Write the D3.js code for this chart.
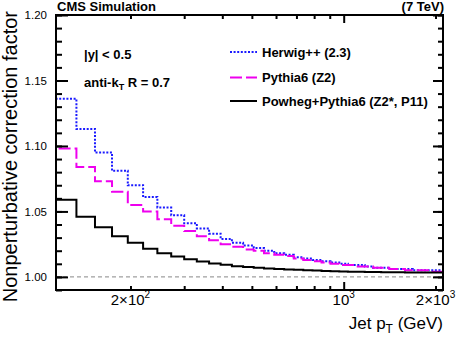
<!DOCTYPE html>
<html>
<head>
<meta charset="utf-8">
<script src="https://cdn.jsdelivr.net/npm/d3@7"></script>
<style>
  body { margin: 0; background: #fff; }
  svg { display: block; font-family: "Liberation Sans", Arial, Helvetica, sans-serif; }
</style>
</head>
<body>
<script>
'use strict';

// jet pT bin edges (GeV)
const binEdges = [114, 133, 153, 174, 196, 220, 245, 272, 300, 330, 362, 395, 430, 468, 507, 548,
  592, 638, 686, 737, 790, 846, 905, 967, 1032, 1101, 1172, 1248, 1327, 1410, 1497, 1588,
  1684, 1784, 1890, 2000, 2116];

const herwig = [1.136, 1.113, 1.095, 1.081, 1.070, 1.061, 1.053, 1.047, 1.041, 1.037, 1.033, 1.029,
  1.026, 1.024, 1.022, 1.020, 1.018, 1.017, 1.015, 1.014, 1.013, 1.012, 1.011, 1.010,
  1.009, 1.009, 1.008, 1.007, 1.007, 1.006, 1.006, 1.006, 1.005, 1.005, 1.005, 1.005];

const pythia = [1.098, 1.084, 1.073, 1.065, 1.055, 1.050, 1.044, 1.039, 1.035, 1.031, 1.028, 1.025,
  1.023, 1.021, 1.020, 1.018, 1.017, 1.016, 1.014, 1.013, 1.012, 1.011, 1.010, 1.009,
  1.009, 1.008, 1.008, 1.007, 1.007, 1.006, 1.006, 1.005, 1.005, 1.005, 1.004, 1.004];

const powheg = [1.059, 1.046, 1.038, 1.031, 1.026, 1.0215, 1.018, 1.0155, 1.0135, 1.0118, 1.0103, 1.0092,
  1.0082, 1.0075, 1.007, 1.0065, 1.006, 1.0057, 1.0054, 1.005, 1.0048, 1.0046, 1.0044, 1.0042,
  1.004, 1.004, 1.0038, 1.0037, 1.0036, 1.0035, 1.0035, 1.0034, 1.0034, 1.0033, 1.0033, 1.0033];

const seriesNames = ['Herwig++ (2.3)', 'Pythia6 (Z2)', 'Powheg+Pythia6 (Z2*, P11)'];

const yMajor = [1.00, 1.05, 1.10, 1.15, 1.20];
const yMinor = d3.range(99, 121).map(d => d / 100);
const xMajor = [1000];
const xMinor = [200, 300, 400, 500, 600, 700, 800, 900, 2000];
const xLabels = [200, 1000, 2000];

(function() {
  const width = 457;
  const heigh = 339;
  const pLeft = 56, pRight = 443, pTop = 15, pBottom = 290;

  const svg = d3.select('body').append('svg')
    .attr('width', width)
    .attr('height', heigh);

  const x = d3.scaleLog().domain([114, 2116]).range([pLeft, pRight]);
  const y = d3.scaleLinear().domain([0.99, 1.20]).range([pBottom, pTop]);

  svg.append('clipPath').attr('id', 'plot')
    .append('rect')
    .attr('x', pLeft).attr('y', pTop)
    .attr('width', pRight - pLeft).attr('height', pBottom - pTop);

  // reference line at 1
  svg.append('line')
    .attr('x1', pLeft).attr('x2', pRight)
    .attr('y1', y(1)).attr('y2', y(1))
    .attr('stroke', '#888')
    .attr('stroke-width', 1)
    .attr('stroke-dasharray', '4,3');

  function stepPoints(vals) {
    let pts = [[binEdges[0], 0.99]];
    vals.forEach((v, i) => pts.push([binEdges[i], v]));
    pts.push([binEdges[binEdges.length - 1], vals[vals.length - 1]]);
    return pts;
  }

  const line = d3.line()
    .x(d => x(d[0]))
    .y(d => y(d[1]))
    .curve(d3.curveStepAfter);

  const styles = [
    { data: herwig, color: '#1a1aff', dash: '2,1.6' },
    { data: pythia, color: '#ee00ee', dash: '12,4' },
    { data: powheg, color: '#000', dash: null }
  ];

  styles.forEach(s => {
    svg.append('path')
      .attr('d', line(stepPoints(s.data)))
      .attr('clip-path', 'url(#plot)')
      .attr('fill', 'none')
      .attr('stroke', s.color)
      .attr('stroke-width', 2)
      .attr('stroke-dasharray', s.dash);
  });

  // axes
  svg.append('g')
    .attr('transform', 'translate(' + pLeft + ',0)')
    .call(d3.axisLeft(y).tickValues(yMinor).tickSize(-6).tickFormat(''));
  svg.append('g')
    .attr('transform', 'translate(' + pLeft + ',0)')
    .call(d3.axisLeft(y).tickValues(yMajor).tickSize(-12).tickPadding(9).tickFormat(d3.format('.2f')));
  svg.append('g')
    .attr('transform', 'translate(' + pRight + ',0)')
    .call(d3.axisRight(y).tickValues(yMinor).tickSize(-5).tickFormat(''));
  svg.append('g')
    .attr('transform', 'translate(' + pRight + ',0)')
    .call(d3.axisRight(y).tickValues(yMajor).tickSize(-10).tickFormat(''));

  [[pBottom, d3.axisBottom], [pTop, d3.axisTop]].forEach(a => {
    svg.append('g')
      .attr('transform', 'translate(0,' + a[0] + ')')
      .call(a[1](x).tickValues(xMinor).tickSize(-4).tickFormat(''));
    svg.append('g')
      .attr('transform', 'translate(0,' + a[0] + ')')
      .call(a[1](x).tickValues(xMajor).tickSize(-8).tickFormat(''));
  });

  svg.selectAll('.domain').remove();
  svg.selectAll('.tick line').attr('stroke', '#000').attr('stroke-width', 2);
  svg.selectAll('.tick text')
    .attr('fill', '#000')
    .style('font-size', '11.5px')
    .style('font-family', '"Liberation Sans", Arial, sans-serif');

  svg.append('rect')
    .attr('x', pLeft).attr('y', pTop)
    .attr('width', pRight - pLeft).attr('height', pBottom - pTop)
    .attr('fill', 'none')
    .attr('stroke', '#000')
    .attr('stroke-width', 2);

  // x labels like 2x10^2
  const xl = svg.selectAll('.xlab')
    .data(xLabels)
    .enter()
    .append('text')
    .attr('class', 'xlab')
    .attr('x', d => x(d))
    .attr('y', 305)
    .attr('text-anchor', 'middle')
    .style('font-size', '15px');
  xl.each(function(d) {
    let e = Math.floor(Math.log10(d));
    let m = Math.round(d / Math.pow(10, e));
    let t = d3.select(this);
    t.append('tspan').text((m === 1 ? '' : m + '\u00d7') + '10');
    t.append('tspan').attr('dy', -7).style('font-size', '10px').text(e);
  });

  // titles
  svg.append('text')
    .attr('transform', 'translate(16.5,11)rotate(-90)')
    .attr('text-anchor', 'end')
    .style('font-size', '20px')
    .text('Nonperturbative correction factor');

  const xt = svg.append('text')
    .attr('x', pRight)
    .attr('y', 329)
    .attr('text-anchor', 'end')
    .style('font-size', '17px');
  xt.append('tspan').text('Jet p');
  xt.append('tspan').attr('dy', 4).style('font-size', '12px').text('T');
  xt.append('tspan').attr('dy', -4).text(' (GeV)');

  svg.append('text')
    .attr('x', pLeft + 1).attr('y', 11)
    .style('font-size', '13px').style('font-weight', 'bold')
    .text('CMS Simulation');
  svg.append('text')
    .attr('x', pRight + 1).attr('y', 11)
    .attr('text-anchor', 'end')
    .style('font-size', '13px').style('font-weight', 'bold')
    .text('(7 TeV)');

  svg.append('text')
    .attr('x', 84).attr('y', 59)
    .style('font-size', '13px').style('font-weight', 'bold')
    .text('|y| < 0.5');
  const ak = svg.append('text')
    .attr('x', 84).attr('y', 87)
    .style('font-size', '13px').style('font-weight', 'bold');
  ak.append('tspan').text('anti-k');
  ak.append('tspan').attr('dy', 3).style('font-size', '9px').text('T');
  ak.append('tspan').attr('dy', -3).text(' R = 0.7');

  // legend
  const legendY = [52, 77.5, 101];
  styles.forEach((s, i) => {
    svg.append('line')
      .attr('x1', 230).attr('x2', 257)
      .attr('y1', legendY[i]).attr('y2', legendY[i])
      .attr('stroke', s.color)
      .attr('stroke-width', 2)
      .attr('stroke-dasharray', s.dash);
    svg.append('text')
      .attr('x', 262).attr('y', legendY[i] + 4.5)
      .style('font-size', '13px').style('font-weight', 'bold')
      .text(seriesNames[i]);
  });
})();
</script>
</body>
</html>
